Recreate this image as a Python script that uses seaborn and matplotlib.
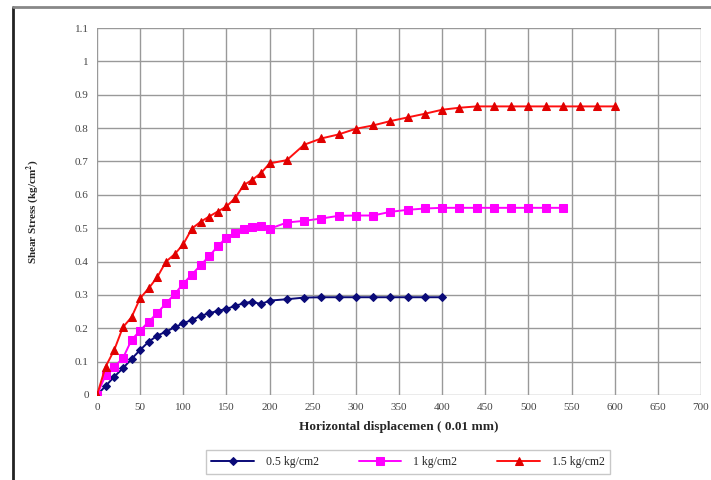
import matplotlib
matplotlib.use("Agg")
import matplotlib.pyplot as plt
import seaborn as sns
import pandas as pd
from matplotlib.lines import Line2D

# ---- data ----
x_low = [0, 10, 20, 30, 40, 50, 60, 70, 80, 90, 100, 110, 120, 130, 140, 150, 160, 170, 180, 190, 200,
         220, 240, 260, 280, 300, 320, 340, 360, 380, 400]
y_05 = [0, 0.027, 0.055, 0.08, 0.108, 0.135, 0.16, 0.178, 0.19, 0.203, 0.215, 0.225, 0.237, 0.245, 0.252,
        0.258, 0.267, 0.275, 0.28, 0.272, 0.283, 0.287, 0.292, 0.293, 0.293, 0.293, 0.293, 0.293, 0.293,
        0.293, 0.293]

x_mid = [0, 10, 20, 30, 40, 50, 60, 70, 80, 90, 100, 110, 120, 130, 140, 150, 160, 170, 180, 190, 200,
         220, 240, 260, 280, 300, 320, 340, 360, 380, 400, 420, 440, 460, 480, 500, 520, 540]
y_10 = [0, 0.06, 0.085, 0.11, 0.165, 0.193, 0.22, 0.246, 0.275, 0.302, 0.334, 0.361, 0.389, 0.416, 0.446,
        0.472, 0.486, 0.497, 0.504, 0.508, 0.498, 0.517, 0.522, 0.529, 0.537, 0.538, 0.538, 0.549, 0.555,
        0.559, 0.561, 0.561, 0.561, 0.561, 0.561, 0.561, 0.561, 0.561]

x_high = [0, 10, 20, 30, 40, 50, 60, 70, 80, 90, 100, 110, 120, 130, 140, 150, 160, 170, 180, 190, 200,
          220, 240, 260, 280, 300, 320, 340, 360, 380, 400, 420, 440, 460, 480, 500, 520, 540, 560, 580, 600]
y_15 = [0, 0.085, 0.135, 0.203, 0.233, 0.29, 0.32, 0.354, 0.4, 0.422, 0.452, 0.499, 0.519, 0.535, 0.55,
        0.565, 0.59, 0.629, 0.645, 0.665, 0.694, 0.704, 0.75, 0.769, 0.781, 0.798, 0.808, 0.821, 0.832,
        0.843, 0.855, 0.861, 0.865, 0.865, 0.865, 0.865, 0.865, 0.865, 0.865, 0.865, 0.865]

labels = ["0.5 kg/cm2", "1 kg/cm2", "1.5 kg/cm2"]
x_ticks = list(range(0, 701, 50))
y_ticks = [0, 0.1, 0.2, 0.3, 0.4, 0.5, 0.6, 0.7, 0.8, 0.9, 1.0, 1.1]
y_tick_labels = ["0", "0.1", "0.2", "0.3", "0.4", "0.5", "0.6", "0.7", "0.8", "0.9", "1", "1.1"]
x_label = "Horizontal displacemen ( 0.01 mm)"
y_label = "Shear Stress (kg/cm$^\\mathbf{2}$)"

sns.set_theme(style="white")
plt.rcParams["font.family"] = ["Liberation Serif", "DejaVu Serif"]
plt.rcParams["mathtext.fontset"] = "stix"

fig = plt.figure(figsize=(7.11, 4.80), dpi=100)
ax = fig.add_axes([97 / 711, 1 - 395 / 480, (701 - 97) / 711, (395 - 28) / 480])

styles = [
    dict(color="#0a0a78", marker="D", markersize=4, markeredgecolor="#0a0a78"),
    dict(color="#ff00ff", marker="s", markersize=6, markeredgecolor="#ff00ff"),
    dict(color="#ff1010", marker="^", markersize=6, markeredgecolor="#e00000", markerfacecolor="#e00000"),
]
series = [(x_low, y_05), (x_mid, y_10), (x_high, y_15)]
for (xs, ys), lab, st in zip(series, labels, styles):
    df = pd.DataFrame({"x": xs, "y": ys})
    sns.lineplot(data=df, x="x", y="y", ax=ax, label=lab, linewidth=1.4, **st)

ax.set_xlim(0, 700)
ax.set_ylim(0, 1.1)
ax.set_xticks(x_ticks)
ax.set_xticklabels([str(t) for t in x_ticks], fontsize=8, color="#444444")
ax.set_yticks(y_ticks)
ax.set_yticklabels(y_tick_labels, fontsize=8, color="#444444")
ax.grid(True, color="#999999", linewidth=1.0)
for s in ax.spines.values():
    s.set_visible(False)
ax.tick_params(axis="both", length=0, pad=6)
ax.set_xlabel(x_label, fontsize=9.5, fontweight="bold", labelpad=6)
ax.set_ylabel(y_label, fontsize=8, fontweight="bold", labelpad=24)

leg = ax.legend(loc="center", bbox_to_anchor=(408 / 711, 1 - 462 / 480), bbox_transform=fig.transFigure,
                ncol=3, fontsize=8.5, frameon=True, fancybox=False, edgecolor="#bbbbbb",
                handlelength=3.6, columnspacing=3.4, borderpad=0.5, handletextpad=1.0)
leg.get_frame().set_linewidth(1.0)

# outer frame of the original chart image
fig.add_artist(Line2D([13 / 711, 13 / 711], [0, 1 - 7 / 480], transform=fig.transFigure,
                      color="#222222", linewidth=2.0))
fig.add_artist(Line2D([13 / 711, 1], [1 - 7 / 480, 1 - 7 / 480], transform=fig.transFigure,
                      color="#888888", linewidth=2.0))

fig.savefig("out.png", dpi=100)
